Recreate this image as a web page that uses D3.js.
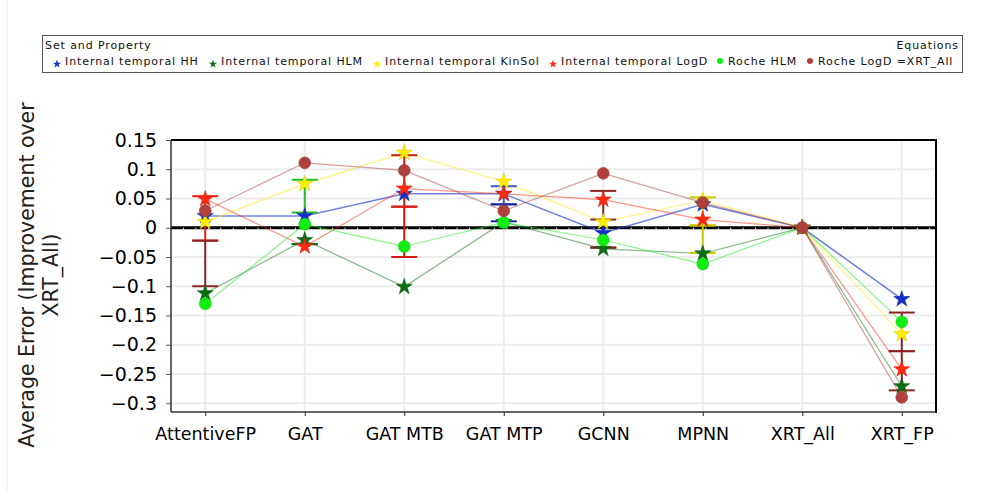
<!DOCTYPE html>
<html lang="en">
<head>
<meta charset="UTF-8">
<title>Average Error</title>
<script src="https://d3js.org/d3.v7.min.js"></script>
<style>
  body { margin: 0; background: #fff; overflow: hidden; }
  svg text { font-family: "DejaVu Sans", sans-serif; fill: #000; }
  .leg { font-size: 11px; letter-spacing: 0.9px; fill: #111; }
</style>
</head>
<body>
<svg id="chart" width="982" height="493"></svg>
<script>
// ---- data ----
const categories = ["AttentiveFP", "GAT", "GAT MTB", "GAT MTP", "GCNN", "MPNN", "XRT_All", "XRT_FP"];
const seriesNames = ["Internal temporal HH", "Internal temporal HLM", "Internal temporal KinSol",
                     "Internal temporal LogD", "Roche HLM", "Roche LogD =XRT_All"];
const seriesColors = ["#1430c8", "#0b6e12", "#ffee00", "#ff2a10", "#11ee11", "#b0403c"];
const seriesShapes = ["star", "star", "star", "star", "circle", "circle"];

const hh     = [0.02, 0.02, 0.058, 0.058, -0.009, 0.040, 0, -0.122];
const hlm    = [-0.112, -0.021, -0.101, 0.010, -0.036, -0.044, 0, -0.271];
const kinsol = [0.010, 0.075, 0.128, 0.079, 0.010, 0.047, 0, -0.182];
const logd   = [0.049, -0.032, 0.067, 0.058, 0.048, 0.014, 0, -0.242];
const rHlm   = [-0.130, 0.006, -0.032, 0.009, -0.021, -0.062, 0, -0.161];
const rLogd  = [0.029, 0.111, 0.098, 0.029, 0.093, 0.043, 0, -0.290];
const allValues = [hh, hlm, kinsol, logd, rHlm, rLogd];

// error bars: category, colour, low, high
const errorBars = [
  { cat: "AttentiveFP", color: "#e82010", lo: -0.022, hi: 0.054 },
  { cat: "AttentiveFP", color: "#8c2424", lo: -0.100, hi: -0.022 },
  { cat: "GAT", color: "#22c022", lo: 0.026, hi: 0.082 },
  { cat: "GAT", color: "#176a17", lo: -0.028, hi: -0.028 },
  { cat: "GAT MTB", color: "#d41a10", lo: 0.036, hi: 0.124 },
  { cat: "GAT MTB", color: "#d41a10", lo: -0.050, hi: 0.036 },
  { cat: "GAT MTP", color: "#3c5ad2", lo: 0.040, hi: 0.071 },
  { cat: "GAT MTP", color: "#15259a", lo: 0.011, hi: 0.040 },
  { cat: "GCNN", color: "#8c2424", lo: 0.014, hi: 0.063 },
  { cat: "GCNN", color: "#7a2020", lo: -0.034, hi: -0.034 },
  { cat: "MPNN", color: "#c8c400", lo: 0.004, hi: 0.052 },
  { cat: "MPNN", color: "#c8c400", lo: -0.043, hi: 0.004 },
  { cat: "XRT_FP", color: "#8c2424", lo: -0.211, hi: -0.145 },
  { cat: "XRT_FP", color: "#8c2424", lo: -0.278, hi: -0.211 }
];

const yTicks = [0.15, 0.1, 0.05, 0, -0.05, -0.1, -0.15, -0.2, -0.25, -0.3];

// ---- layout ----
const svg = d3.select("#chart");
const plot = { left: 171, right: 936, top: 140, bottom: 412 };

const x = d3.scalePoint().domain(categories).range([plot.left, plot.right]).padding(0.344);
const y = d3.scaleLinear().domain([-0.315, 0.15]).range([plot.bottom, plot.top]);

// faint page edge
svg.append("line").attr("x1", 7).attr("x2", 7).attr("y1", 0).attr("y2", 493)
  .style("stroke", "#eeeeee").style("stroke-width", 1);

// grid
const grid = svg.append("g");
grid.selectAll(".hg").data(yTicks).join("line")
  .attr("x1", plot.left).attr("x2", plot.right)
  .attr("y1", d => y(d)).attr("y2", d => y(d))
  .style("stroke", "#ececec").style("stroke-width", 2);
grid.selectAll(".vg").data(categories).join("line")
  .attr("x1", d => x(d)).attr("x2", d => x(d))
  .attr("y1", plot.top).attr("y2", plot.bottom)
  .style("stroke", "#ececec").style("stroke-width", 2);

// zero line with small minor ticks
svg.append("line")
  .attr("x1", plot.left).attr("x2", plot.right)
  .attr("y1", y(0)).attr("y2", y(0))
  .style("stroke", "#000").style("stroke-width", 3);
const minor = d3.range(plot.left + x.step() / 8, plot.right, x.step() / 8);
svg.append("g").selectAll("line").data(minor).join("line")
  .attr("x1", d => d).attr("x2", d => d)
  .attr("y1", y(0)).attr("y2", y(0) + 1.5)
  .style("stroke", "#fff").style("stroke-width", 1);

// axes
const yAxis = svg.append("g")
  .attr("transform", "translate(" + plot.left + ",0)")
  .call(d3.axisLeft(y).tickValues(yTicks).tickSize(5).tickPadding(9)
    .tickFormat(d => d3.format("")(d).replace("-", "\u2212")));
yAxis.select(".domain").remove();
yAxis.selectAll(".tick line").style("stroke", "#555");
yAxis.selectAll("text").style("font-size", "19px");

const xAxis = svg.append("g")
  .attr("transform", "translate(0," + plot.bottom + ")")
  .call(d3.axisBottom(x).tickSize(4).tickPadding(12));
xAxis.select(".domain").remove();
xAxis.selectAll(".tick line").style("stroke", "#222");
xAxis.selectAll("text").style("font-size", "17.5px");

// frame
svg.append("line").attr("x1", plot.left).attr("x2", plot.left).attr("y1", plot.top).attr("y2", plot.bottom)
  .style("stroke", "#333").style("stroke-width", 1.5);
svg.append("line").attr("x1", plot.left).attr("x2", plot.right).attr("y1", plot.bottom).attr("y2", plot.bottom)
  .style("stroke", "#333").style("stroke-width", 1.5);
svg.append("line").attr("x1", plot.left).attr("x2", plot.right + 1).attr("y1", plot.top).attr("y2", plot.top)
  .style("stroke", "#000").style("stroke-width", 2);
svg.append("line").attr("x1", plot.right).attr("x2", plot.right).attr("y1", plot.top).attr("y2", plot.bottom + 1)
  .style("stroke", "#000").style("stroke-width", 2);

// series lines
const line = d3.line().x((d, i) => x(categories[i])).y(d => y(d));
svg.append("g").selectAll("path").data(allValues).join("path")
  .attr("d", d => line(d))
  .style("fill", "none")
  .style("stroke", (d, i) => seriesColors[i])
  .style("stroke-width", (d, i) => i === 0 ? 1.6 : 1.2)
  .style("stroke-opacity", (d, i) => i === 0 ? 0.6 : 0.5);

// error bars
const eb = svg.append("g").selectAll("g").data(errorBars).join("g");
eb.append("line")
  .attr("x1", d => x(d.cat)).attr("x2", d => x(d.cat))
  .attr("y1", d => y(d.lo)).attr("y2", d => y(d.hi))
  .style("stroke", d => d.color).style("stroke-width", 2);
eb.selectAll(".cap").data(d => [d.lo, d.hi].map(v => ({ v: v, d: d }))).join("line")
  .attr("class", "cap")
  .attr("x1", c => x(c.d.cat) - 13).attr("x2", c => x(c.d.cat) + 13)
  .attr("y1", c => y(c.v)).attr("y2", c => y(c.v))
  .style("stroke", c => c.d.color).style("stroke-width", 2);

// markers
const star = d3.symbol().type(d3.symbolStar).size(80);
const dot = d3.symbol().type(d3.symbolCircle).size(110);
allValues.forEach(function (vals, si) {
  svg.append("g").selectAll("path").data(vals).join("path")
    .attr("transform", (d, i) => "translate(" + x(categories[i]) + "," + y(d) + ")")
    .attr("d", seriesShapes[si] === "star" ? star() : dot())
    .style("fill", seriesColors[si])
    .style("stroke", d3.color(seriesColors[si]).darker(0.4))
    .style("stroke-width", 0.6);
});

// legend
const legend = svg.append("g");
legend.append("rect")
  .attr("x", 42.5).attr("y", 35.5).attr("width", 920).attr("height", 37)
  .style("fill", "#fff").style("stroke", "#555").style("stroke-width", 1);
legend.append("text").attr("class", "leg").attr("x", 45).attr("y", 49).text("Set and Property");
legend.append("text").attr("class", "leg").attr("x", 959).attr("y", 49).attr("text-anchor", "end")
  .text("Equations");

const legendX = [57, 213, 377, 553, 720, 810];
const items = legend.selectAll(".item").data(seriesNames).join("g")
  .attr("class", "item")
  .attr("transform", (d, i) => "translate(" + legendX[i] + ",63)");
items.append("path")
  .attr("d", (d, i) => seriesShapes[i] === "star"
    ? d3.symbol().type(d3.symbolStar).size(22)()
    : d3.symbol().type(d3.symbolCircle).size(28)())
  .attr("transform", (d, i) => "translate(0," + (seriesShapes[i] === "star" ? 1 : -2) + ")")
  .style("fill", (d, i) => seriesColors[i]);
items.append("text").attr("class", "leg").attr("x", 8).attr("y", 2).text(d => d);

// y axis title
const yTitle = svg.append("text")
  .attr("transform", "translate(34,275) rotate(-90)")
  .attr("text-anchor", "middle")
  .style("font-size", "20.5px")
  .style("fill", "#222");
yTitle.append("tspan").attr("x", 0).attr("dy", 0).text("Average Error (Improvement over");
yTitle.append("tspan").attr("x", 0).attr("dy", 24).text("XRT_All)");
</script>
</body>
</html>
